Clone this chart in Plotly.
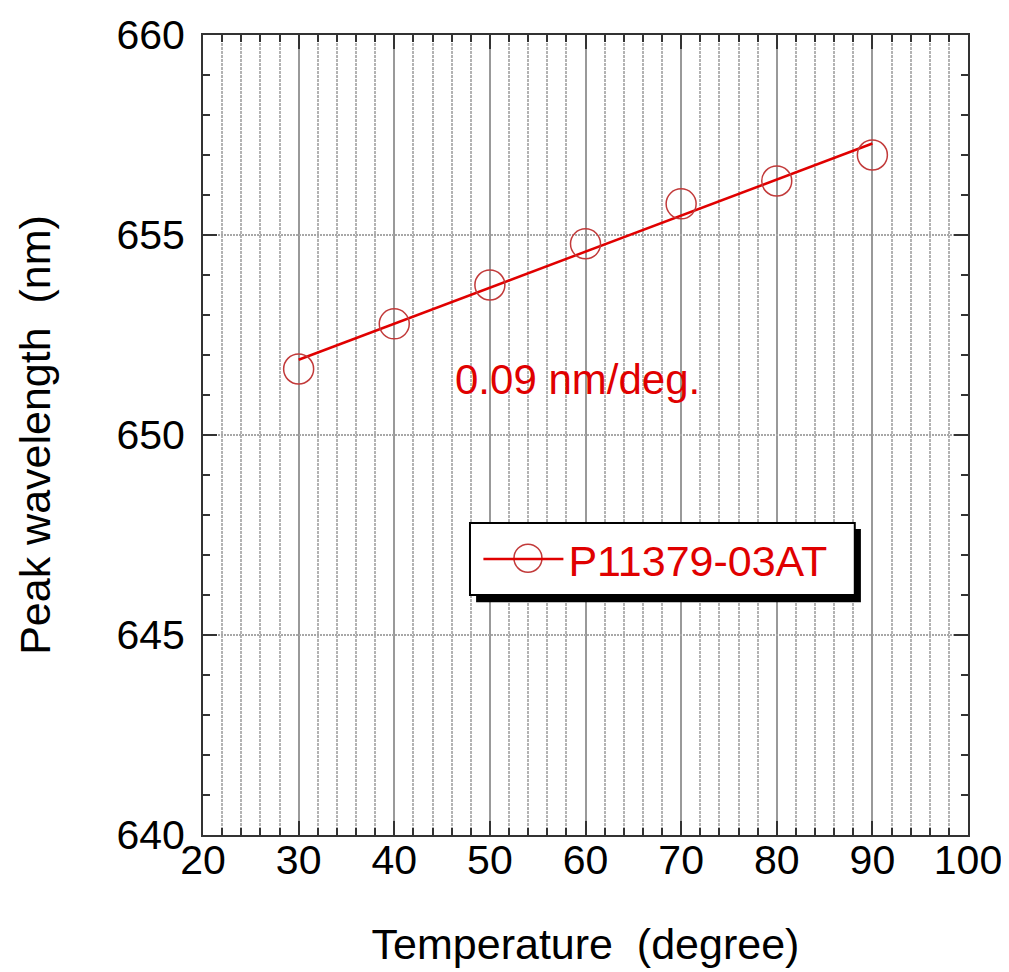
import numpy as np
import plotly.graph_objects as go

# Data
temperature = [30, 40, 50, 60, 70, 80, 90]
peak_wavelength = [651.65, 652.78, 653.75, 654.78, 655.78, 656.35, 657.0]
series_name = "P11379-03AT"
slope_label = "0.09 nm/deg."

x_title = "Temperature\u00a0\u00a0(degree)"
y_title = "Peak wavelength\u00a0\u00a0(nm)"

# Linear fit through the points
coef = np.polyfit(temperature, peak_wavelength, 1)
fit_x = [temperature[0], temperature[-1]]
fit_y = list(np.polyval(coef, fit_x))

RED = "#e00000"
MARK = "#c23a3a"
FONT = "Liberation Sans, Arial, sans-serif"

fig = go.Figure()

fig.add_trace(go.Scatter(
    x=fit_x, y=fit_y, mode="lines",
    line=dict(color=RED, width=2.5),
    showlegend=False, hoverinfo="skip",
))
fig.add_trace(go.Scatter(
    x=temperature, y=peak_wavelength, mode="markers",
    marker=dict(symbol="circle-open", size=30, color=MARK, line=dict(width=1.5, color=MARK)),
    showlegend=False,
))
# legend entry (line; the open circle is drawn at full size as a shape below)
fig.add_trace(go.Scatter(
    x=[None], y=[None], mode="lines", name=series_name,
    line=dict(color=RED, width=2.5),
    showlegend=True,
))

fig.add_annotation(
    x=59.2, y=651.4, xref="x", yref="y", text=slope_label, showarrow=False,
    font=dict(family=FONT, size=42, color=RED),
)

# legend box with drop shadow
fig.add_shape(type="rect", xref="paper", yref="paper", x0=0.357, x1=0.860, y0=0.291, y1=0.3825,
              fillcolor="black", line=dict(width=0), layer="above")
fig.add_shape(type="rect", xref="paper", yref="paper", x0=0.349, x1=0.852, y0=0.300, y1=0.390,
              fillcolor="white", line=dict(color="black", width=2), layer="above")
# legend symbol circle
fig.add_shape(type="circle", xref="paper", yref="paper",
              x0=0.4248 - 0.0183, x1=0.4248 + 0.0183, y0=0.346 - 0.0175, y1=0.346 + 0.0175,
              line=dict(color=MARK, width=1.5), fillcolor="rgba(0,0,0,0)", layer="above")

axis_common = dict(
    showline=True, linecolor="#333333", linewidth=2, mirror="ticks",
    ticks="inside", tickcolor="#333333", tickwidth=2,
    tickfont=dict(family=FONT, size=41, color="black"),
    zeroline=False, automargin=False, ticklabeloverflow="allow",
)

fig.update_xaxes(
    range=[20, 100], dtick=10, tick0=0, ticklen=14,
    showgrid=True, gridcolor="#999999", gridwidth=1.5,
    minor=dict(dtick=2, tick0=0, ticks="inside", ticklen=7, tickcolor="#333333", tickwidth=2,
               showgrid=True, gridcolor="#b3b3b3", gridwidth=1.5, griddash="3px,1px"),
    title=dict(text=x_title, font=dict(family=FONT, size=43, color="black"), standoff=56),
    ticklabelstandoff=-12,
    **axis_common,
)
fig.update_yaxes(
    range=[640, 660], dtick=5, tick0=0, ticklen=14,
    showgrid=True, gridcolor="#a8a8a8", gridwidth=1.5, griddash="2px,1px",
    minor=dict(dtick=1, tick0=0, ticks="inside", ticklen=7, tickcolor="#333333", tickwidth=2, showgrid=False),
    title=dict(text=y_title, font=dict(family=FONT, size=43, color="black"), standoff=52),
    ticklabelstandoff=8,
    **axis_common,
)

fig.update_layout(
    width=1001, height=960,
    margin=dict(l=195, r=41, t=27, b=133, pad=0),
    plot_bgcolor="white", paper_bgcolor="white",
    font=dict(family=FONT, color="black"),
    legend=dict(
        x=0.36, y=0.345, xanchor="left", yanchor="middle",
        bgcolor="rgba(0,0,0,0)", borderwidth=0,
        font=dict(family=FONT, size=43, color=RED),
        itemwidth=80,
    ),
)

fig.write_html("out.html")
